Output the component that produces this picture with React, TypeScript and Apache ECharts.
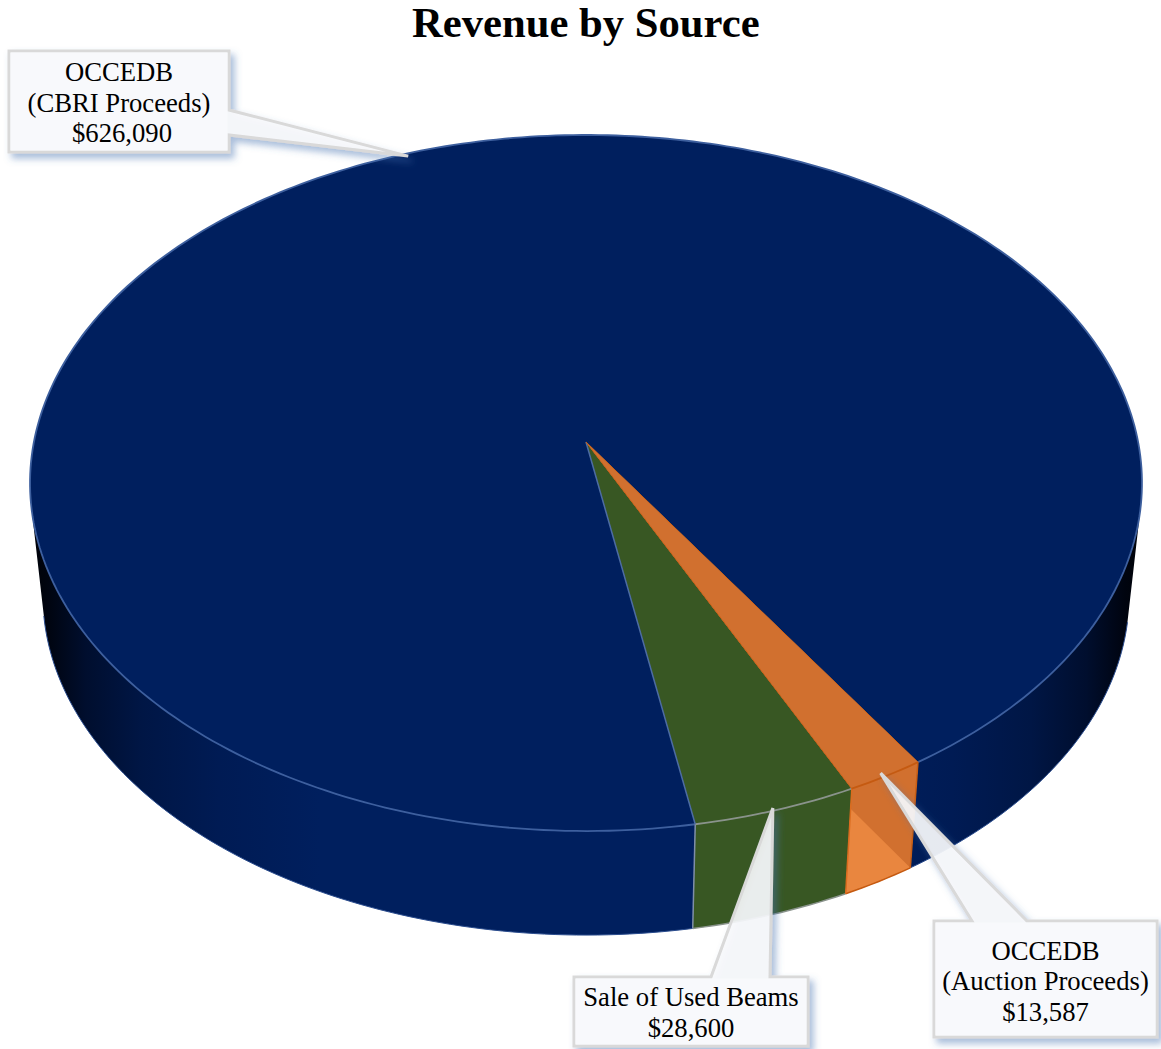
import React, { useEffect, useRef } from "react";
import * as echarts from "echarts";

const categories = ["OCCEDB\n(CBRI Proceeds)", "Sale of Used Beams", "OCCEDB\n(Auction Proceeds)"];
const revenue = [626090, 28600, 13587];
const chartTitle = "Revenue by Source";

// colours per slice
const topFill = ["#001F5E", "#385723", "#D1702F"];
const sideFill = ["", "#385723", "#D1702F"];
const rimStroke = ["#3D5F9E", "#8A938C", "#C55A11"];

// perspective disc: screen projection of a unit circle, two planes
const CX = 586;
const A = 552.1;
const B = 343.2;
const K = 0.1178;
const TOP_Y = 442;
const LOW_Y = 555;
const LOW_SCALE = 0.977;
const START_ANGLE = 32.8;

const project = (deg: number, cy: number, s: number): number[] => {
  const r = (deg * Math.PI) / 180;
  const X = Math.sin(r);
  const Y = Math.cos(r);
  const u = 1 / (1 - K * Y);
  return [CX + s * A * X * u, cy + s * B * Y * u];
};
const upper = (d: number) => project(d, TOP_Y, 1);
const lower = (d: number) => project(d, LOW_Y, LOW_SCALE);

const total = revenue.reduce((a, b) => a + b, 0);
const sliceRange = (i: number): number[] => {
  let before = 0;
  for (let j = 0; j < i; j++) before += revenue[j];
  return [START_ANGLE + (before / total) * 360, START_ANGLE + ((before + revenue[i]) / total) * 360];
};
const samples = (a: number, b: number): number[] => {
  const n = Math.max(2, Math.ceil(b - a));
  const out: number[] = [];
  for (let i = 0; i <= n; i++) out.push(a + ((b - a) * i) / n);
  return out;
};
const frontFacing = (d: number) => {
  const p = upper(d);
  const q = upper(d + 0.1);
  const l = lower(d);
  return (q[0] - p[0]) * (l[1] - p[1]) - (q[1] - p[1]) * (l[0] - p[0]) > 0;
};
const frontRuns = (a: number, b: number): number[][] => {
  const ts = samples(a, b);
  const runs: number[][] = [];
  let cur: number[] | null = null;
  for (let i = 0; i < ts.length - 1; i++) {
    if (frontFacing((ts[i] + ts[i + 1]) / 2)) {
      if (!cur) cur = [ts[i]];
      cur.push(ts[i + 1]);
    } else if (cur) {
      runs.push(cur);
      cur = null;
    }
  }
  if (cur) runs.push(cur);
  return runs;
};

const edgeGradient = () =>
  new echarts.graphic.LinearGradient(
    30, 0, 1142, 0,
    [
      { offset: 0, color: "#000208" },
      { offset: 0.015, color: "#00040F" },
      { offset: 0.05, color: "#000E2E" },
      { offset: 0.1, color: "#001645" },
      { offset: 0.17, color: "#001B54" },
      { offset: 0.26, color: "#001F5E" },
      { offset: 0.74, color: "#001F5E" },
      { offset: 0.83, color: "#001B54" },
      { offset: 0.9, color: "#001645" },
      { offset: 0.95, color: "#000E2E" },
      { offset: 0.985, color: "#00040F" },
      { offset: 1, color: "#000208" },
    ],
    true
  );

const renderSlice = (params: any, api: any) => {
  const i = params.dataIndex;
  const [a, b] = sliceRange(i);
  const children: any[] = [];
  frontRuns(a, b).forEach((run) => {
    const up = run.map(upper);
    const lo = run.map(lower);
    children.push({
      type: "polygon",
      shape: { points: up.concat(lo.slice().reverse()) },
      style: { fill: i === 0 ? edgeGradient() : sideFill[i] },
    });
    if (i === 2) {
      const uA = upper(a);
      const lA = lower(a);
      const knee = [uA[0] + 0.19 * (lA[0] - uA[0]), uA[1] + 0.19 * (lA[1] - uA[1])];
      children.push({
        type: "polygon",
        shape: { points: [knee, ...lo] },
        style: { fill: "#E9863F" },
      });
    }
    children.push({
      type: "polyline",
      shape: { points: lo },
      style: { stroke: i === 0 ? "#2A4C8E" : rimStroke[i], lineWidth: i === 0 ? 1 : 1.5, fill: null },
    });
    if (i > 0) {
      children.push({
        type: "polyline",
        shape: { points: [upper(a), lower(a)] },
        style: { stroke: i === 1 ? "#7E8EA8" : "#DB6C1F", lineWidth: 1.5, fill: null },
      });
    }
    if (i === 2) {
      children.push({
        type: "polyline",
        shape: { points: [upper(b), lower(b)] },
        style: { stroke: "#C85E14", lineWidth: 1.5, fill: null },
      });
    }
  });
  const arc = samples(a, b).map(upper);
  const apex = [CX, TOP_Y];
  children.push({
    type: "polygon",
    shape: { points: [apex, ...arc] },
    style: { fill: topFill[i] },
  });
  children.push({
    type: "polyline",
    shape: { points: arc },
    style: { stroke: rimStroke[i], lineWidth: 1.8, fill: null },
  });
  if (i === 1) {
    children.push({
      type: "polyline",
      shape: { points: [apex, upper(a)] },
      style: { stroke: "#4C6BA3", lineWidth: 1.5, fill: null },
    });
  }
  if (i === 2) {
    children.push({
      type: "polyline",
      shape: { points: [upper(a), apex, upper(b)] },
      style: { stroke: "#C85E14", lineWidth: 1, fill: null },
    });
  }
  return { type: "group", children };
};

// callout layout: box edges, pointer base, tip nudge, text centre, money-line shift
const calloutBoxes = [
  { l: 9, t: 51, r: 229, b: 152, side: "right", p0: 110, p1: 135, tx: 4, ty: 2, cy: 102.5, vx: 3 },
  { l: 574, t: 977, r: 808, b: 1046, side: "top", p0: 711, p1: 770, tx: -3, ty: -2, cy: 1012.5, vx: 0 },
  { l: 934, t: 921, r: 1157, b: 1037, side: "top", p0: 972, p1: 1027, tx: -5, ty: -3, cy: 981, vx: 0 },
];

const LINE_HEIGHT = 30.5;
const money = (v: number) => "$" + v.toLocaleString("en-US");

const renderCallout = (params: any, api: any) => {
  const i = params.dataIndex;
  const [a, b] = sliceRange(i);
  const c = calloutBoxes[i];
  const mid = upper((a + b) / 2);
  const tip = [mid[0] + c.tx, mid[1] + c.ty];
  const pts =
    c.side === "right"
      ? [[c.l, c.t], [c.r, c.t], [c.r, c.p0], tip, [c.r, c.p1], [c.r, c.b], [c.l, c.b]]
      : [[c.l, c.t], [c.p0, c.t], tip, [c.p1, c.t], [c.r, c.t], [c.r, c.b], [c.l, c.b]];
  const lines = (categories[i] + "\n" + money(api.value(0))).split("\n");
  const firstY = c.cy - ((lines.length - 1) * LINE_HEIGHT) / 2;
  const texts = lines.map((line, k) => ({
    type: "text",
    style: {
      text: line,
      x: (c.l + c.r) / 2 + (k === lines.length - 1 ? c.vx : 0),
      y: firstY + k * LINE_HEIGHT,
      align: "center",
      verticalAlign: "middle",
      fill: "#000000",
      fontFamily: "'Liberation Serif'",
      fontSize: 26.67,
    },
  }));
  return {
    type: "group",
    children: [
      {
        type: "polygon",
        shape: { points: pts },
        style: {
          fill: "rgba(248,249,252,0.9)",
          stroke: "#D9D9D9",
          lineWidth: 3,
          lineJoin: "miter",
          shadowColor: "rgba(68,114,176,0.5)",
          shadowBlur: 7,
          shadowOffsetX: 4,
          shadowOffsetY: 5,
        },
      },
      {
        type: "rect",
        shape: { x: c.l + 1.5, y: c.t + 1.5, width: c.r - c.l - 3, height: c.b - c.t - 3 },
        style: { fill: "#F8F9FC" },
      },
      ...texts,
    ],
  };
};

export default function App() {
  const ref = useRef<HTMLDivElement>(null);
  useEffect(() => {
    document.body.style.margin = "0";
    const chart = echarts.init(ref.current!, undefined, { renderer: "svg" });
    chart.setOption({
      animation: false,
      backgroundColor: "#FFFFFF",
      title: {
        text: chartTitle,
        left: 412,
        top: 1,
        padding: 0,
        textStyle: {
          fontFamily: "'Liberation Serif'",
          fontWeight: "bold",
          fontSize: 42.67,
          color: "#000000",
        },
      },
      series: [
        {
          type: "custom",
          name: "Revenue",
          coordinateSystem: "none",
          renderItem: renderSlice,
          data: revenue.map((v) => [v]),
          silent: true,
          z: 2,
        },
        {
          type: "custom",
          name: "Callouts",
          coordinateSystem: "none",
          renderItem: renderCallout,
          data: revenue.map((v) => [v]),
          silent: true,
          z: 5,
        },
      ],
    });
    return () => chart.dispose();
  }, []);
  return <div ref={ref} style={{ width: 1161, height: 1049 }} />;
}
